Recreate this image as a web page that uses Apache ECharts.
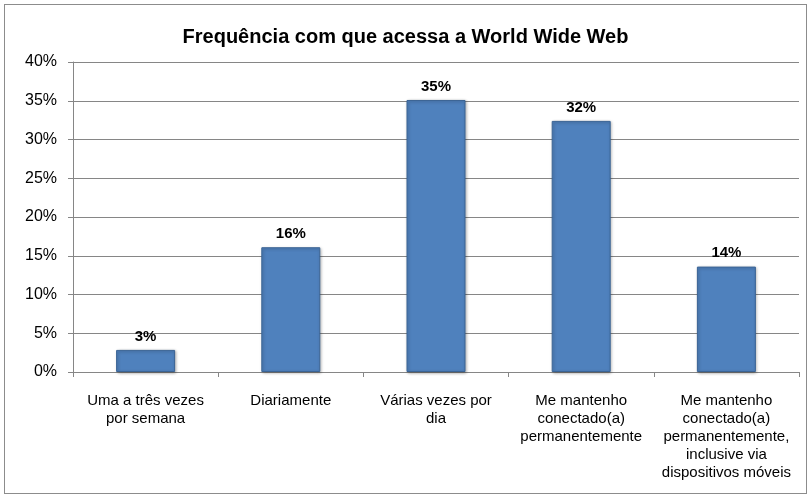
<!DOCTYPE html>
<html>
<head>
<meta charset="utf-8">
<script src="https://cdn.jsdelivr.net/npm/echarts@6/dist/echarts.min.js"></script>
<style>
  html, body { margin: 0; padding: 0; background: #fff; }
  #frame { position: absolute; left: 4px; top: 4px; width: 803px; height: 490px; border: 1px solid #8c8c8c; box-sizing: border-box; }
  #chart { width: 811px; height: 498px; }
</style>
</head>
<body>
<div id="frame"></div>
<div id="chart"></div>
<script>
const title = "Frequência com que acessa a World Wide Web";
const categories = [
  "Uma a três vezes\npor semana",
  "Diariamente",
  "Várias vezes por\ndia",
  "Me mantenho\nconectado(a)\npermanentemente",
  "Me mantenho\nconectado(a)\npermanentemente,\ninclusive via\ndispositivos móveis"
];
const values = [2.85, 16.1, 35.1, 32.4, 13.6];

const chart = echarts.init(document.getElementById("chart"));
chart.setOption({
  animation: false,
  title: {
    text: title,
    left: "center",
    top: 22,
    textStyle: { fontFamily: "Liberation Sans", fontSize: 20, fontWeight: "bold", color: "#000" }
  },
  grid: { left: 73, right: 12, top: 62, bottom: 126 },
  xAxis: {
    type: "category",
    data: categories,
    axisLine: { lineStyle: { color: "#868686" } },
    axisTick: { show: true, length: 5, lineStyle: { color: "#868686" } },
    axisLabel: {
      fontFamily: "Liberation Sans",
      fontSize: 15,
      color: "#000",
      lineHeight: 18,
      margin: 20,
      interval: 0
    }
  },
  yAxis: {
    type: "value",
    min: 0,
    max: 40,
    interval: 5,
    axisLine: { show: true, lineStyle: { color: "#868686" } },
    axisTick: { show: true, length: 5, lineStyle: { color: "#868686" } },
    splitLine: { lineStyle: { color: "#868686" } },
    axisLabel: {
      fontFamily: "Liberation Sans",
      fontSize: 16,
      color: "#000",
      margin: 16,
      formatter: "{value}%"
    }
  },
  series: [
    {
      type: "bar",
      data: values,
      barWidth: 59,
      itemStyle: {
        color: "#4F81BD",
        borderColor: "#3B6495",
        borderWidth: 1,
        shadowColor: "rgba(0,0,0,0.3)",
        shadowBlur: 3,
        shadowOffsetX: 1,
        shadowOffsetY: 1
      },
      label: {
        show: true,
        position: "top",
        distance: 6,
        fontFamily: "Liberation Sans",
        fontSize: 15,
        fontWeight: "bold",
        color: "#000",
        formatter: (p) => Math.round(p.value) + "%"
      }
    }
  ]
});
</script>
</body>
</html>
